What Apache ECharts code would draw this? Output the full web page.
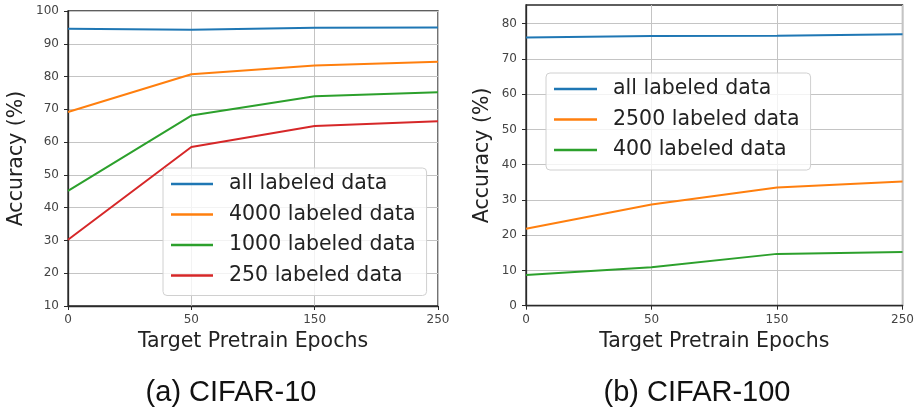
<!DOCTYPE html>
<html>
<head>
<meta charset="utf-8">
<script src="https://cdn.jsdelivr.net/npm/echarts@6/dist/echarts.min.js"></script>
<style>
html,body{margin:0;padding:0;background:#fff;}
#c{width:917px;height:410px;}
</style>
</head>
<body>
<div id="c"></div>
<script>
// Data
var epochs = ['0', '50', '150', '250'];
var cifar10All = [94.6, 94.3, 94.9, 95.0];
var cifar10L4000 = [69.2, 80.7, 83.4, 84.5];
var cifar10L1000 = [45.1, 68.1, 74.0, 75.2];
var cifar10L250 = [30.2, 58.5, 64.9, 66.4];
var cifar100All = [76.1, 76.5, 76.6, 77.0];
var cifar100L2500 = [21.8, 28.7, 33.5, 35.2];
var cifar100L400 = [8.7, 10.9, 14.7, 15.2];
var yTicks100 = [0, 10, 20, 30, 40, 50, 60, 70, 80];
var captions = ['(a) CIFAR-10', '(b) CIFAR-100'];
var names10 = ['all labeled data', '4000 labeled data', '1000 labeled data', '250 labeled data'];
var names100 = ['all labeled data', '2500 labeled data', '400 labeled data'];

var C = {blue:'#1f77b4', orange:'#ff7f0e', green:'#2ca02c', red:'#d62728'};
var FONT = 'DejaVu Sans';
var gridLine = {show:true, lineStyle:{color:'#c4c4c4', width:1}};
var axisLine = {show:true, lineStyle:{color:'#2a2a2a', width:1.3}};
var axisTick = {show:true, inside:false, length:4, lineStyle:{color:'#2a2a2a', width:1}};
var tickLabel = {fontFamily:FONT, fontSize:12, color:'#444'};
var nameText = {fontFamily:FONT, fontSize:20.5, color:'#222'};

function xAxis(gi){
  return {type:'category', gridIndex:gi, data:epochs, boundaryGap:false,
    name:'Target Pretrain Epochs', nameLocation:'middle', nameGap:25, nameTextStyle:nameText,
    axisLine:axisLine, axisTick:Object.assign({alignWithLabel:true}, axisTick),
    axisLabel:Object.assign({margin:8, showMaxLabel:true}, tickLabel), splitLine:gridLine};
}
function line(name, data, color, gi){
  return {type:'line', name:name, xAxisIndex:gi, yAxisIndex:gi, data:data, symbol:'none',
    showSymbol:false, lineStyle:{color:color, width:2}, itemStyle:{color:color}, z:2};
}
function legend(data, left, top, itemWidth){
  return {data:data, orient:'vertical', left:left, top:top, icon:'rect', itemWidth:itemWidth, itemHeight:2.5,
    itemGap:8.5, padding:[5,11,9,8], backgroundColor:'rgba(255,255,255,0.8)',
    borderColor:'#d0d0d0', borderWidth:1, borderRadius:4, selectedMode:false,
    textStyle:{fontFamily:FONT, fontSize:20.5, color:'#222', lineHeight:22, padding:[0,0,0,11]}, z:5};
}

var chart = echarts.init(document.getElementById('c'), null, {renderer:'canvas'});
chart.setOption({
  animation:false,
  grid:[
    {left:68, top:11, width:370, height:295, show:true, borderColor:'#2a2a2a', borderWidth:1.3, backgroundColor:'transparent'},
    {left:526, top:5, width:377, height:300.7, show:true, borderColor:'#2a2a2a', borderWidth:1.3, backgroundColor:'transparent'}
  ],
  xAxis:[xAxis(0), xAxis(1)],
  yAxis:[
    {type:'value', gridIndex:0, min:10, max:100, interval:10,
      name:'Accuracy (%)', nameLocation:'middle', nameGap:41, nameTextStyle:nameText,
      axisLine:axisLine, axisTick:axisTick, axisLabel:Object.assign({margin:9}, tickLabel), splitLine:gridLine},
    {type:'value', gridIndex:1, min:0, max:85.3, interval:10,
      name:'Accuracy (%)', nameLocation:'middle', nameGap:33, nameTextStyle:nameText,
      axisLine:axisLine,
      axisTick:Object.assign({customValues:yTicks100}, axisTick),
      axisLabel:Object.assign({margin:9, customValues:yTicks100}, tickLabel),
      splitLine:gridLine}
  ],
  legend:[
    legend(names10, 163, 168, 42),
    legend(names100, 546, 73, 43)
  ],
  series:[
    line(names10[0], cifar10All, C.blue, 0),
    line(names10[1], cifar10L4000, C.orange, 0),
    line(names10[2], cifar10L1000, C.green, 0),
    line(names10[3], cifar10L250, C.red, 0),
    line(names100[0], cifar100All, C.blue, 1),
    line(names100[1], cifar100L2500, C.orange, 1),
    line(names100[2], cifar100L400, C.green, 1)
  ],
  graphic:[
    {type:'text', x:231, y:393, style:{text:captions[0], fontFamily:'Liberation Sans', fontSize:29, fill:'#111', align:'center', verticalAlign:'middle'}},
    {type:'text', x:697, y:393, style:{text:captions[1], fontFamily:'Liberation Sans', fontSize:29, fill:'#111', align:'center', verticalAlign:'middle'}}
  ]
});
</script>
</body>
</html>
